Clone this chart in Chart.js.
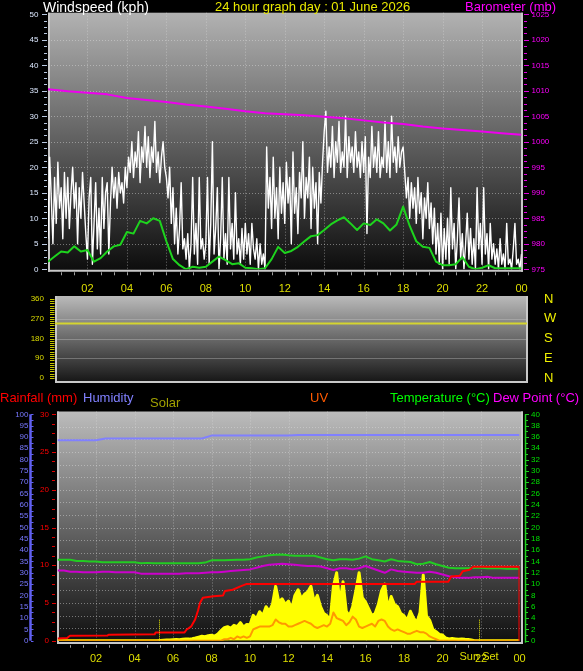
<!DOCTYPE html>
<html><head><meta charset="utf-8">
<script src="https://cdn.jsdelivr.net/npm/chart.js@4.4.1/dist/chart.umd.min.js"></script>
<style>
html,body{margin:0;padding:0;background:#000;}
#wrap{position:relative;width:583px;height:671px;background:#000;overflow:hidden;font-family:'Liberation Sans',Arial,sans-serif;}
canvas{position:absolute;left:0;}
.t{position:absolute;white-space:nowrap;font-size:13px;line-height:13px;}
</style></head><body>
<div id="wrap">
<canvas id="c1" width="583" height="296" style="top:0px"></canvas>
<canvas id="c2" width="583" height="104" style="top:288px"></canvas>
<canvas id="c3" width="583" height="283" style="top:388px"></canvas>
<div class="t" style="left:43px;top:0px;font-size:14px;line-height:14px;color:#ffffff">Windspeed (kph)</div>
<div class="t" style="left:215px;top:0px;color:#e8e800">24 hour graph day : 01 June 2026</div>
<div class="t" style="left:465px;top:0px;color:#ff00ff">Barometer (mb)</div>
<div class="t" style="left:0px;top:390.5px;color:#ff0000">Rainfall (mm)</div>
<div class="t" style="left:83px;top:390.5px;color:#8080ff">Humidity</div>
<div class="t" style="left:150px;top:395.5px;color:#a0a000">Solar</div>
<div class="t" style="left:310px;top:390.5px;color:#ff5a00">UV</div>
<div class="t" style="left:390px;top:390.5px;color:#00ff00">Temperature (°C)</div>
<div class="t" style="left:493px;top:390.5px;color:#ff00ff">Dew Point (°C)</div>
</div>
<script>
// ---------------- DATA ----------------
const hourTicks = [2,4,6,8,10,12,14,16,18,20,22,24];
// wind gust, 5-minute samples (kph), 00:00 .. 24:00
const windGust = [
6,22,14,5,18,9,21,12,16,6,19,10,
18,8,15,20,12,17,5,16,10,19,13,7,
2,14,18,1,9,17,4,12,3,18,8,15,
17,3,13,20,14,18,12,19,15,17,13,20,
16,22,19,25,18,23,20,27,17,24,21,28,
20,26,18,24,21,29,19,23,17,22,25,20,
18,14,20,9,16,5,12,3,8,17,4,6,
2,7,0,5,18,3,9,1,18,4,6,2,
5,18,1,9,25,3,8,16,0,6,18,2,
7,1,18,4,9,2,15,3,6,1,8,2,
9,3,7,1,9,4,2,6,0,5,1,3,
0,24,12,18,8,22,10,16,6,20,11,17,
9,21,13,18,5,23,11,16,7,19,14,25,
10,18,14,22,8,20,12,17,5,19,13,21,
27,31,19,24,20,28,18,25,21,29,19,23,
20,30,18,26,21,24,19,27,20,23,18,25,
19,26,7,22,18,28,20,24,19,27,18,22,
20,29,19,25,18,30,21,24,19,26,20,23,
24,19,14,18,10,17,12,16,9,18,11,15,
6,14,10,17,8,13,5,12,3,9,1,11,
0,8,2,10,1,16,4,9,0,6,14,2,
7,0,5,11,2,8,1,6,0,16,4,9,
1,16,3,7,0,9,2,5,1,4,0,6,
1,3,0,9,1,2,0,4,9,1,2,0,
3];
// average wind speed, 20-minute samples (kph)
const windAvg = [
1.5,2.5,3.5, 3.3,4.5,3.5, 3.8,1.5,2.2, 3.5,4.5,4.8,
7.3,7.0,9.5, 9.0,10.0,9.5, 5.5,2.0,0.8, 0,0.5,0.3,
0.5,1.5,2.5, 1.8,1.0,1.2, 0.3,0.2,0, 0.2,2.0,4.4,
3.2,3.6,4.4, 5.5,6.5,6.7, 7.7,8.8,9.6, 10.2,9.0,7.7,
9.0,8.7,9.8, 9.0,7.6,8.8, 12.3,8.5,5.5, 4.4,4.2,1.5,
0.8,0.8,1.0, 2.4,0.5,0, 0.3,0.8,0.2, 0.2,0.2,0.2,
0.2];
// barometer, hourly (mb)
const baro = [1010.3,1009.9,1009.6,1009.3,1008.6,1008.2,1007.8,1007.3,1006.9,1006.5,1006.0,1005.6,
1005.4,1005.2,1004.9,1004.6,1004.2,1003.8,1003.5,1003.0,1002.6,1002.3,1002.0,1001.7,1001.4];
// wind direction, hourly (degrees)
const windDir = [248,248,248,248,248,248,248,248,248,248,248,248,248,248,248,248,248,248,248,248,248,248,248,248,248];
const dirLabels = {0:'N',90:'E',180:'S',270:'W',360:'N'};
// humidity, 30-minute samples (%)
const humidity = [88.5,88.5,88.5,88.5,88.5, 89.3,89.3,89.3,89.3,89.3,89.3,89.3,89.3,89.3,89.3,89.3,
90.6,90.6,90.6,90.6,90.6,90.6,90.6,90.6,90.6, 90.9,90.9,90.9,90.9,90.9,90.9,90.9,90.9,
90.9,90.9,90.9,90.9,90.9,90.9,90.9,90.9,90.9,90.9,90.9,90.9,90.9,90.9,90.9,90.9];
// rainfall (mm), times in hours
const rainTimes  = [0,0.5,0.65,2.6,2.65,5.05,5.1,6.6,6.7,6.95,7.15,7.3,7.4,7.55,8.1,8.6,8.7,9.1,9.5,9.8,18.55,18.65,20.3,20.45,20.9,21.05,21.4,21.6,24,24];
const rainValues = [0.3,0.35,0.66,0.7,0.8,0.85,1.1,1.1,1.45,1.9,2.8,4.0,5.0,5.7,5.9,6.0,6.6,6.75,7.2,7.5,7.5,7.8,7.8,8.5,8.6,9.2,9.4,9.8,9.8,0];
// temperature, 20-minute samples (°C)
const temperature = [
14.3,14.3,14.3, 14.1,14.1,14.0, 14.0,13.85,13.85, 13.85,13.85,13.85,
13.85,13.7,13.75, 13.7,13.7,13.7, 13.7,13.7,13.7, 13.7,13.7,13.8,
14.2,14.2,14.2, 14.25,14.3,14.3, 14.4,14.7,14.9, 15.1,15.2,15.25,
15.1,15.0,15.0, 15.0,15.0,14.7, 14.4,14.2,14.4, 14.4,14.3,14.5,
14.9,14.4,14.2, 14.0,14.4,14.1, 14.0,13.9,13.5, 13.6,13.9,13.5,
13.2,12.9,12.8, 12.8,12.8,12.9, 12.9,12.8,12.8, 12.8,12.7,12.7,
12.7];
// dew point, 20-minute samples (°C)
const dewPoint = [
12.4,12.4,12.2, 12.2,12.1,12.1, 12.1,12.2,12.2, 12.1,12.1,12.1,
12.1,11.85,11.85, 11.85,11.85,11.85, 11.85,11.85,11.9, 11.9,11.9,12.0,
12.1,12.1,12.2, 12.3,12.4,12.5, 12.6,12.9,13.2, 13.4,13.5,13.6,
13.5,13.4,13.3, 13.2,13.2,13.1, 12.8,12.5,12.8, 12.8,12.6,12.8,
13.2,12.8,12.4, 12.0,12.6,12.3, 12.2,12.1,12.0, 12.0,12.2,12.0,
11.7,11.4,11.2, 11.1,11.1,11.2, 11.2,11.3,11.1, 11.1,11.1,11.1,
11.1];
// solar radiation, 10-minute samples (W/m²)
const solar = [
0,0,0,0,0,0, 0,0,0,0,0,0, 0,0,0,0,0,0, 0,0,0,0,0,0, 0,0,0,0,0,0,
0,0,1,2,3,3,
4,5,4,6,8,7,
9,12,16,20,18,22,
24,20,30,45,58,62,
55,68,62,80,60,72,
70,112,96,128,110,150,
130,160,240,170,185,160,
175,140,200,225,185,205,
215,240,170,200,150,120,
110,90,240,300,165,260,
130,110,150,220,300,190,
170,140,110,120,160,220,
250,140,195,160,150,120,
110,90,130,100,80,125,
290,110,90,50,40,28,
25,12,8,10,8,6,
8,6,5,3,0,0,
0,0,0,0,0,0,
0,0,0,0,0,0,
0];
// UV index, 10-minute samples
const uv = [
0,0,0,0,0,0, 0,0,0,0,0,0, 0,0,0,0,0,0, 0,0,0,0,0,0,
0,0,0,0,0,0, 0,0,0,0,0,0, 0,0,0,0,0,0, 0,0,0,0,0,0,
0,0,0,0,0.1,0.1,
0.2,0.1,0.3,0.2,0.3,0.2,
0.3,0.8,0.9,1.0,1.0,1.0,
1.0,1.1,1.5,1.3,1.2,1.2,
1.0,1.0,1.1,1.2,1.3,1.4,
1.3,1.2,1.0,0.9,1.0,1.1,
1.0,1.2,2.0,1.6,1.5,1.4,
1.1,1.3,1.7,1.5,1.0,0.9,
1.0,1.1,1.2,1.0,1.4,1.5,
1.4,1.0,0.8,0.7,0.8,0.7,
0.6,0.5,0.5,0.6,0.7,0.6,
0.6,0.5,0.3,0.2,0.1,0,
0,0,0,0,0,0, 0,0,0,0,0,0, 0,0,0,0,0,0, 0,0,0,0,0,0,
0];
const sunRise = 5.27, sunSet = 21.9;

// ---------------- HELPERS ----------------
Chart.defaults.font.family = "'Liberation Sans', Arial, sans-serif";
Chart.defaults.animation = false;
const pts = (vals, step) => vals.map((v,i)=>({x:i*step, y:v}));
const xy = (ts, vs) => ts.map((t,i)=>({x:t, y:vs[i]}));
const hourLabel = v => v===0 ? '' : (v===24 ? '00' : String(v).padStart(2,'0'));
const plain = v => String(v);
function ln(ctx,x1,y1,x2,y2){ctx.beginPath();ctx.moveTo(x1,y1);ctx.lineTo(x2,y2);ctx.stroke();}
const YEL = '#dede00';
function fixW(w){ return s => { s.width=w; s.paddingTop=0; s.paddingBottom=0; }; }
function fixH(h){ return s => { s.height=h; s.paddingLeft=0; s.paddingRight=0; }; }

function panelPlugin(id, off, c0, c1, gridFn){
  return { id,
    beforeDraw(chart){
      const ctx=chart.ctx, a=chart.chartArea;
      const L=a.left+off[0], T=a.top+off[1], R=a.right+off[2], B=a.bottom+off[3];
      ctx.save();
      const g=ctx.createLinearGradient(0,T,0,B);
      g.addColorStop(0,c0); g.addColorStop(1,c1);
      ctx.fillStyle=g; ctx.fillRect(L,T,R-L,B-T);
      ctx.setLineDash([1,2]); ctx.strokeStyle='rgba(225,225,225,0.45)'; ctx.lineWidth=1;
      gridFn(chart, ctx, L,T,R,B);
      ctx.setLineDash([]);
      ctx.strokeStyle='#c8c8c8'; ctx.lineWidth=2;
      ln(ctx,L+1,T,L+1,B); ln(ctx,L,B-1,R,B-1); ln(ctx,R-1,T,R-1,B);
      ctx.restore();
    }
  };
}
const baseOpts = {responsive:false, devicePixelRatio:1, animation:false, events:[],
  plugins:{legend:{display:false}, tooltip:{enabled:false}},
  elements:{point:{radius:0}, line:{tension:0, borderJoinStyle:'round'}}};
const noGrid = {grid:{display:false, drawTicks:false}, border:{display:false}};

// ---------------- CHART 1 : wind / barometer ----------------
new Chart(document.getElementById('c1'), {
  type:'line',
  data:{datasets:[
    {data:pts(baro,1), yAxisID:'yb', borderColor:'#ee00ee', borderWidth:2},
    {data:pts(windAvg,1/3), yAxisID:'y', borderColor:'#1ed41e', borderWidth:2},
    {data:pts(windGust,5/60), yAxisID:'y', borderColor:'#ffffff', borderWidth:1.4}
  ]},
  options:{...baseOpts,
    layout:{autoPadding:false, padding:{top:14.3,left:0,right:0,bottom:0}},
    scales:{
      x:{type:'linear',min:0,max:24,...noGrid,
        ticks:{stepSize:2,autoSkip:false,maxRotation:0,color:YEL,font:{size:11},padding:12.7,callback:hourLabel},
        afterFit:fixH(26.7)},
      y:{min:0,max:50,position:'left',...noGrid,
        ticks:{stepSize:5,autoSkip:false,color:'#dce8ff',font:{size:8},padding:9.5,callback:plain},
        afterFit:fixW(48)},
      yb:{min:975,max:1025,position:'right',...noGrid,
        ticks:{stepSize:5,autoSkip:false,color:'#ff00ff',font:{size:8},padding:10,callback:plain},
        afterFit:fixW(61.5)}
    }
  },
  plugins:[
    panelPlugin('p1',[0,-1.6,1.5,2.4],'#b2b2b2','#0c0c0c',(chart,ctx,L,T,R,B)=>{
      const {x,y}=chart.scales;
      hourTicks.slice(0,-1).forEach(h=>{const px=Math.round(x.getPixelForValue(h))+0.5; ln(ctx,px,T,px,B);});
      for(let v=5;v<50;v+=5){const py=Math.round(y.getPixelForValue(v))+0.5; ln(ctx,L,py,R,py);}
    }),
    {id:'t1', afterDraw(chart){
      const ctx=chart.ctx,{x,y,yb}=chart.scales,a=chart.chartArea;
      ctx.save(); ctx.lineWidth=1;
      ctx.strokeStyle='#b8c8e0';
      for(let i=0;i<=40;i++){const py=Math.round(y.getPixelForValue(i*1.25))+0.5; ln(ctx,i%4===0?42:44,py,47,py);}
      ctx.strokeStyle='#e000e0';
      for(let i=0;i<=40;i++){const py=Math.round(yb.getPixelForValue(975+i*1.25))+0.5; ln(ctx,524,py,i%4===0?529:527,py);}
      ctx.strokeStyle='#a0a0a0';
      for(let k=1;k<36;k++){const px=Math.round(x.getPixelForValue(k*2/3))+0.5; ln(ctx,px,a.bottom+3,px,a.bottom+6);}
      ctx.restore();
    }}
  ]
});

// ---------------- CHART 2 : wind direction ----------------
new Chart(document.getElementById('c2'), {
  type:'line',
  data:{datasets:[{data:pts(windDir,1), yAxisID:'y', borderColor:'#d4d430', borderWidth:2}]},
  options:{...baseOpts,
    layout:{autoPadding:false, padding:{top:11,left:0,right:0,bottom:14}},
    scales:{
      x:{type:'linear',min:0,max:24,display:false},
      y:{min:0,max:360,position:'left',...noGrid,
        ticks:{stepSize:90,autoSkip:false,color:YEL,font:{size:8},padding:11},
        afterFit:fixW(55)},
      yd:{min:0,max:360,position:'right',...noGrid,
        ticks:{stepSize:90,autoSkip:false,color:'#f0f000',font:{size:13},padding:17,callback:v=>dirLabels[v]},
        afterFit:fixW(56)}
    }
  },
  plugins:[
    panelPlugin('p2',[0,-3,1,5],'#bababa','#141414',(chart,ctx,L,T,R,B)=>{
      const {y}=chart.scales; ctx.setLineDash([]); ctx.strokeStyle='rgba(210,210,210,0.35)';
      [90,180,270].forEach(v=>{const py=Math.round(y.getPixelForValue(v))+0.5; ln(ctx,L,py,R,py);});
    }),
    {id:'t2', afterDraw(chart){
      const ctx=chart.ctx,{y}=chart.scales;
      ctx.save(); ctx.lineWidth=1; ctx.strokeStyle='#c8c800';
      for(let v=0;v<=360;v+=10){const py=Math.round(y.getPixelForValue(v))+0.5; ln(ctx,50,py,54.5,py);}
      ctx.restore();
    }}
  ]
});

// ---------------- CHART 3 : rain / humidity / temp / solar ----------------
new Chart(document.getElementById('c3'), {
  type:'line',
  data:{datasets:[
    {data:xy(rainTimes,rainValues), yAxisID:'yr', borderColor:'#ff0000', borderWidth:2},
    {data:pts(temperature,1/3), yAxisID:'yt', borderColor:'#22cc22', borderWidth:2},
    {data:pts(dewPoint,1/3), yAxisID:'yt', borderColor:'#cc00cc', borderWidth:2},
    {data:pts(humidity,0.5), yAxisID:'yh', borderColor:'#8080ff', borderWidth:2},
    {data:pts(uv,1/6), yAxisID:'yu', borderColor:'#ff9900', borderWidth:2},
    {data:pts(solar,1/6), yAxisID:'ys', borderColor:'#ffff00', backgroundColor:'#ffff00', fill:'origin', borderWidth:3}
  ]},
  options:{...baseOpts,
    layout:{autoPadding:false, padding:{top:26.3,left:0,right:0,bottom:0}},
    scales:{
      x:{type:'linear',min:0,max:24,...noGrid,
        ticks:{stepSize:2,autoSkip:false,maxRotation:0,color:YEL,font:{size:11},padding:11.5,callback:hourLabel},
        afterFit:fixH(30.3)},
      yh:{min:0,max:100,position:'left',weight:1,...noGrid,
        ticks:{stepSize:5,autoSkip:false,color:'#7878ff',font:{size:8},padding:4.5},
        afterFit:fixW(33)},
      yr:{min:0,max:30,position:'left',weight:0,...noGrid,
        ticks:{stepSize:5,autoSkip:false,color:'#ff0000',font:{size:8},padding:8.5},
        afterFit:fixW(24.5)},
      yt:{min:0,max:40,position:'right',...noGrid,
        ticks:{stepSize:2,autoSkip:false,color:'#00e000',font:{size:8},padding:11.5},
        afterFit:fixW(63.5)},
      ys:{min:0,max:1000,display:false},
      yu:{min:0,max:16,display:false}
    }
  },
  plugins:[
    panelPlugin('p3',[-0.5,-2.8,3.5,3.3],'#bcbcbc','#0e0e0e',(chart,ctx,L,T,R,B)=>{
      const {x,yr}=chart.scales;
      hourTicks.slice(0,-1).forEach(h=>{const px=Math.round(x.getPixelForValue(h))+0.5; ln(ctx,px,T,px,B);});
      for(let i=1;i<18;i++){const py=Math.round(yr.getPixelForValue(i*30/18))+0.5; ln(ctx,L,py,R,py);}
    }),
    {id:'t3', afterDraw(chart){
      const ctx=chart.ctx,{x,yh,yr,yt}=chart.scales,a=chart.chartArea;
      ctx.save();
      // humidity bar
      ctx.strokeStyle='#6060f0'; ctx.lineWidth=2.5;
      ln(ctx,30.5,yh.getPixelForValue(100),30.5,yh.getPixelForValue(0));
      ctx.lineWidth=1;
      for(let v=0;v<=100;v+=2.5){const py=Math.round(yh.getPixelForValue(v))+0.5; ln(ctx,31,py,33.5,py);}
      // rain ticks
      ctx.strokeStyle='#e00000';
      for(let i=0;i<=24;i++){const py=Math.round(yr.getPixelForValue(i*1.25))+0.5; ln(ctx,52,py,i%4===0?56:55,py);}
      // temp axis
      ctx.strokeStyle='#20d020'; ctx.lineWidth=1.5;
      ln(ctx,525.5,yt.getPixelForValue(40),525.5,yt.getPixelForValue(0)+2);
      ctx.lineWidth=1;
      for(let v=0;v<=40;v++){const py=Math.round(yt.getPixelForValue(v))+0.5; ln(ctx,525,py,v%2===0?529:528,py);}
      // x minor ticks
      ctx.strokeStyle='#a0a0a0';
      for(let k=1;k<36;k++){const px=Math.round(x.getPixelForValue(k*2/3))+0.5; ln(ctx,px,a.bottom+4.5,px,a.bottom+7);}
      // sunrise / sunset markers
      ctx.strokeStyle='#e8e800'; ctx.setLineDash([1,1]);
      [sunRise,sunSet].forEach(t=>{const px=Math.round(x.getPixelForValue(t))+0.5; ln(ctx,px,a.bottom-21,px,a.bottom);});
      ctx.setLineDash([]);
      ctx.fillStyle=YEL; ctx.font="11px 'Liberation Sans', Arial, sans-serif";
      ctx.textAlign='center'; ctx.textBaseline='top';
      ctx.fillText('Sun Set', x.getPixelForValue(sunSet), a.bottom+11);
      ctx.restore();
    }}
  ]
});
</script>
</body></html>
